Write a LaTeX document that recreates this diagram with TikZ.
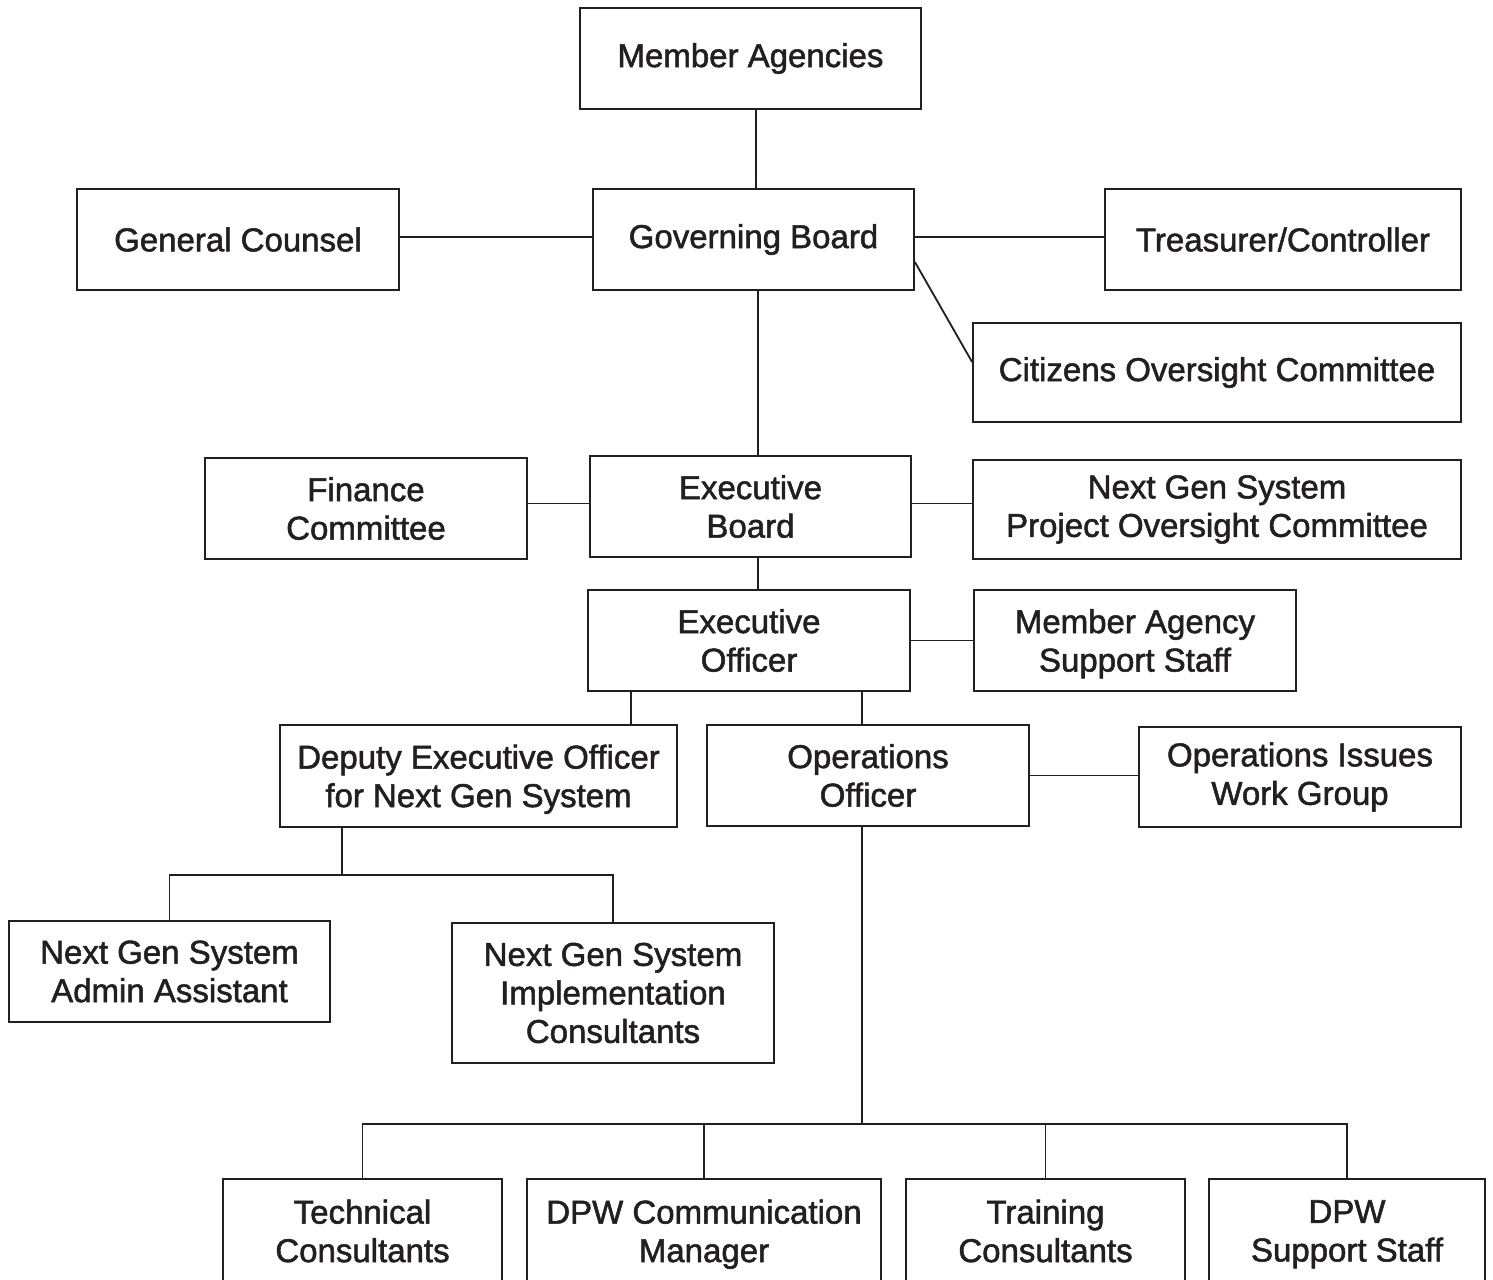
\documentclass[tikz,border=0pt]{standalone}
\usepackage{fontspec}
\setmainfont{Liberation Sans}[FakeBold=1.6]
\definecolor{ink}{HTML}{231F20}
\begin{document}
\begin{tikzpicture}[x=1pt,y=-1pt,
  box/.style={draw=ink, line width=1.8pt, rectangle, inner sep=0pt, align=center,
    text=ink, font=\fontsize{33}{38.5}\selectfont},
  conn/.style={draw=ink, line width=1.8pt}]
\useasboundingbox (0,0) rectangle (1493,1279);
\clip (0,0) rectangle (1493,1279);
\fill[white] (0,0) rectangle (1493,1279);
% boxes
\node[box, minimum width=341pt, minimum height=101pt] (ma) at (750.5,58.5) {Member Agencies};
\node[box, minimum width=322pt, minimum height=101pt] (gc) at (238,239.5) {General Counsel};
\node[box, minimum width=321pt, minimum height=101pt] (gb) at (753.5,239.5) {Governing Board};
\node[box, minimum width=356pt, minimum height=101pt] (tc) at (1283,239.5) {Treasurer/Controller};
\node[box, minimum width=488pt, minimum height=99pt] (coc) at (1217,372.5) {Citizens Oversight Committee};
\node[box, minimum width=322pt, minimum height=101pt] (fc) at (366,508.5) {Finance\\Committee};
\node[box, minimum width=321pt, minimum height=101pt] (eb) at (750.5,506.5) {Executive\\Board};
\node[box, minimum width=488pt, minimum height=99pt] (ngpoc) at (1217,509.5) {Next Gen System\\Project Oversight Committee};
\node[box, minimum width=322pt, minimum height=101pt] (eo) at (749,640.5) {Executive\\Officer};
\node[box, minimum width=322pt, minimum height=101pt] (mass) at (1135,640.5) {Member Agency\\Su\smash{pp}ort Staff};
\node[box, minimum width=397pt, minimum height=102pt] (deo) at (478.5,776) {Deputy Executive Officer\\for Next Gen S\smash{y}stem};
\node[box, minimum width=322pt, minimum height=101pt] (oo) at (868,775.5) {Operations\\Officer};
\node[box, minimum width=322pt, minimum height=100pt] (oiwg) at (1300,777) {Operations Issues\\Work Group};
\node[box, minimum width=321pt, minimum height=101pt] (ngaa) at (169.5,971.5) {Next Gen System\\Admin Assistant};
\node[box, minimum width=322pt, minimum height=140pt] (ngic) at (613,993) {Next Gen System\\Implementation\\Consultants};
\node[box, minimum width=279pt, minimum height=104pt] (tcon) at (362.5,1231) {Technical\\Consultants};
\node[box, minimum width=354pt, minimum height=104pt] (dpwcm) at (704,1231) {DPW Communication\\Mana\smash{g}er};
\node[box, minimum width=279pt, minimum height=104pt] (trc) at (1045.5,1231) {Training\\Consultants};
\node[box, minimum width=276pt, minimum height=104pt] (dpwss) at (1347,1231) {DPW\\Su\smash{pp}ort Staff};
% junction points
\coordinate (dj) at (342,875);
\coordinate (oj) at (862,1124);
% connectors
\draw[conn] ([xshift=5.5pt]ma.south) -- ([xshift=5.5pt]ma.south |- gb.north);
\draw[conn] ([yshift=2.5pt]gc.east) -- ([yshift=2.5pt]gb.west);
\draw[conn] ([yshift=2.5pt]gb.east) -- ([yshift=2.5pt]tc.west);
\draw[conn] ([yshift=-22.5pt]gb.east) -- ([yshift=10.5pt]coc.west);
\draw[conn] ([xshift=4.5pt]gb.south) -- ([xshift=4.5pt]gb.south |- eb.north);
\draw[conn] ([yshift=3pt]eb.west -| fc.east) -- ([yshift=3pt]eb.west);
\draw[conn] ([yshift=3pt]eb.east) -- ([yshift=3pt]eb.east -| ngpoc.west);
\draw[conn] ([xshift=7.5pt]eb.south) -- ([xshift=7.5pt]eb.south |- eo.north);
\draw[conn] (eo.east) -- (eo.east -| mass.west);
\draw[conn] ([xshift=-118pt]eo.south) -- ([xshift=-118pt]eo.south |- deo.north);
\draw[conn] ([xshift=113pt]eo.south) -- ([xshift=113pt]eo.south |- oo.north);
\draw[conn] (oo.east) -- (oo.east -| oiwg.west);
\draw[conn] ([xshift=-136.5pt]deo.south) -- (dj);
\draw[conn] (ngaa.north) -- (ngaa.north |- dj) -- (ngic.north |- dj) -- (ngic.north);
\draw[conn] ([xshift=-6pt]oo.south) -- (oj);
\draw[conn] (tcon.north) -- (tcon.north |- oj) -- (dpwss.north |- oj) -- (dpwss.north);
\draw[conn] (dpwcm.north) -- (dpwcm.north |- oj);
\draw[conn] (trc.north) -- (trc.north |- oj);
\end{tikzpicture}
\end{document}
